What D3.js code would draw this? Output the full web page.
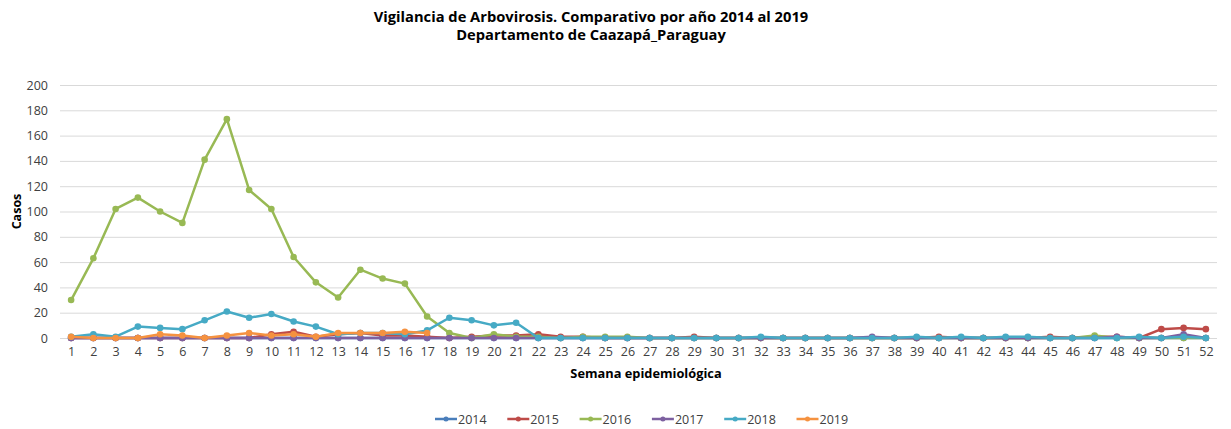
<!DOCTYPE html>
<html>
<head>
<meta charset="utf-8">
<script src="https://cdn.jsdelivr.net/npm/d3@7"></script>
<style>
  body { margin: 0; background: #fff; }
  text { font-family: "Open Sans", "Noto Sans", sans-serif; fill: #404040; }
</style>
</head>
<body>
<div id="container"></div>
<script>
'use strict'

const weeks = d3.range(1, 53);
const years = ['2014', '2015', '2016', '2017', '2018', '2019'];
const colors = ['#4a7ebb', '#be4b48', '#98b954', '#7d60a0', '#46aac5', '#f59240'];

// casos por semana, uno por año
const s2014 = [0,0,0,0,0,0,0,0,0,0, 0,0,0,0,0,0,0,0,0,0, 0,0,0,0,0,0,0,0,0,0, 0,0,0,0,0,0,0,0,0,0, 0,0,0,0,0,0,0,0,0,0, 0,0];
const s2015 = [0,0,0,0,0,0,0,0,0,3, 5,1,3,4,2,2,1,0,1,2, 2,3,1,1,0,0,0,0,1,0, 0,0,0,0,0,0,0,0,0,1, 0,0,0,0,1,0,1,1,0,7, 8,7];
const s2016 = [30,63,102,111,100,91,141,173,117,102, 64,44,32,54,47,43,17,4,0,3, 1,1,0,1,1,1,0,0,0,0, 0,0,0,0,0,0,0,0,0,0, 0,0,0,0,0,0,2,0,0,0, 0,0];
const s2017 = [0,0,0,0,0,0,0,0,0,0, 0,0,0,0,0,0,0,0,0,0, 0,0,0,0,0,0,0,0,0,0, 0,0,0,0,0,0,1,0,0,0, 0,0,0,0,0,0,0,1,0,0, 3,0];
const s2018 = [1,3,1,9,8,7,14,21,16,19, 13,9,3,4,4,3,6,16,14,10, 12,0,0,0,0,0,0,0,0,0, 0,1,0,0,0,0,0,0,1,0, 1,0,1,1,0,0,0,0,1,0, 1,0];
const s2019 = [1,0,0,0,3,2,0,2,4,2, 3,1,4,4,4,5,4];
const series = [s2014, s2015, s2016, s2017, s2018, s2019];
const yTicks = d3.range(0, 201, 20);

const width = 1231, height = 429;
const margin = {top: 85, right: 14, bottom: 91, left: 60};

const svg = d3.select('#container').append('svg')
    .attr('width', width)
    .attr('height', height);

svg.append('text')
    .attr('x', 591).attr('y', 22)
    .attr('text-anchor', 'middle')
    .style('font-size', '14.7px').style('font-weight', 'bold').style('fill', '#000')
    .text('Vigilancia de Arbovirosis. Comparativo por año 2014 al 2019');
svg.append('text')
    .attr('x', 591).attr('y', 40)
    .attr('text-anchor', 'middle')
    .style('font-size', '14.7px').style('font-weight', 'bold').style('fill', '#000')
    .text('Departamento  de Caazapá_Paraguay');

const x = d3.scalePoint()
    .domain(weeks)
    .range([margin.left, width - margin.right])
    .padding(0.5);

const y = d3.scaleLinear()
    .domain([0, 200])
    .range([height - margin.bottom, margin.top]);

// grid
svg.append('g')
    .selectAll('line')
    .data(yTicks)
    .enter().append('line')
    .attr('x1', margin.left)
    .attr('x2', width - margin.right)
    .attr('y1', d => y(d) + 0.5)
    .attr('y2', d => y(d) + 0.5)
    .attr('stroke', '#d9d9d9')
    .attr('stroke-width', 1);

const yAxis = svg.append('g')
    .attr('transform', 'translate(' + (margin.left - 12) + ',0)')
    .call(d3.axisLeft(y).tickValues(yTicks).tickSize(0).tickPadding(0));
yAxis.select('.domain').remove();
yAxis.selectAll('text').style('font-size', '12.5px').style('font-family', '"Open Sans", sans-serif').attr('fill', '#404040');

const xAxis = svg.append('g')
    .attr('transform', 'translate(0,' + (height - margin.bottom) + ')')
    .call(d3.axisBottom(x).tickSize(0).tickPadding(9));
xAxis.select('.domain').remove();
xAxis.selectAll('text').style('font-size', '12.5px').style('font-family', '"Open Sans", sans-serif').attr('fill', '#404040');

svg.append('text')
    .attr('x', 646).attr('y', 378)
    .attr('text-anchor', 'middle')
    .style('font-size', '12.8px').style('font-weight', 'bold').style('fill', '#000')
    .text('Semana epidemiológica');

svg.append('text')
    .attr('transform', 'translate(21,' + y(100) + ') rotate(-90)')
    .attr('text-anchor', 'middle')
    .style('font-size', '12.5px').style('font-weight', 'bold').style('fill', '#000')
    .text('Casos');

const line = d3.line()
    .x((d, i) => x(weeks[i]))
    .y(d => y(d));

series.forEach(function(vals, k) {
    const g = svg.append('g');
    g.append('path')
        .datum(vals)
        .attr('fill', 'none')
        .attr('stroke', colors[k])
        .attr('stroke-width', 2.5)
        .attr('stroke-linejoin', 'round')
        .attr('d', line);
    g.selectAll('circle')
        .data(vals)
        .enter().append('circle')
        .attr('cx', (d, i) => x(weeks[i]))
        .attr('cy', d => y(d))
        .attr('r', 3.3)
        .attr('fill', colors[k]);
});

// legend
const legend = svg.append('g')
    .selectAll('g')
    .data(years)
    .enter().append('g')
    .attr('transform', (d, i) => 'translate(' + (435 + i * 72.3) + ',419)');
legend.append('line')
    .attr('x1', 0).attr('x2', 22)
    .attr('stroke', (d, i) => colors[i])
    .attr('stroke-width', 2.5);
legend.append('circle')
    .attr('cx', 11).attr('r', 2.5)
    .attr('fill', (d, i) => colors[i]);
legend.append('text')
    .attr('x', 23).attr('y', 4.5)
    .style('font-size', '12.5px')
    .text(d => d);
</script>
</body>
</html>
